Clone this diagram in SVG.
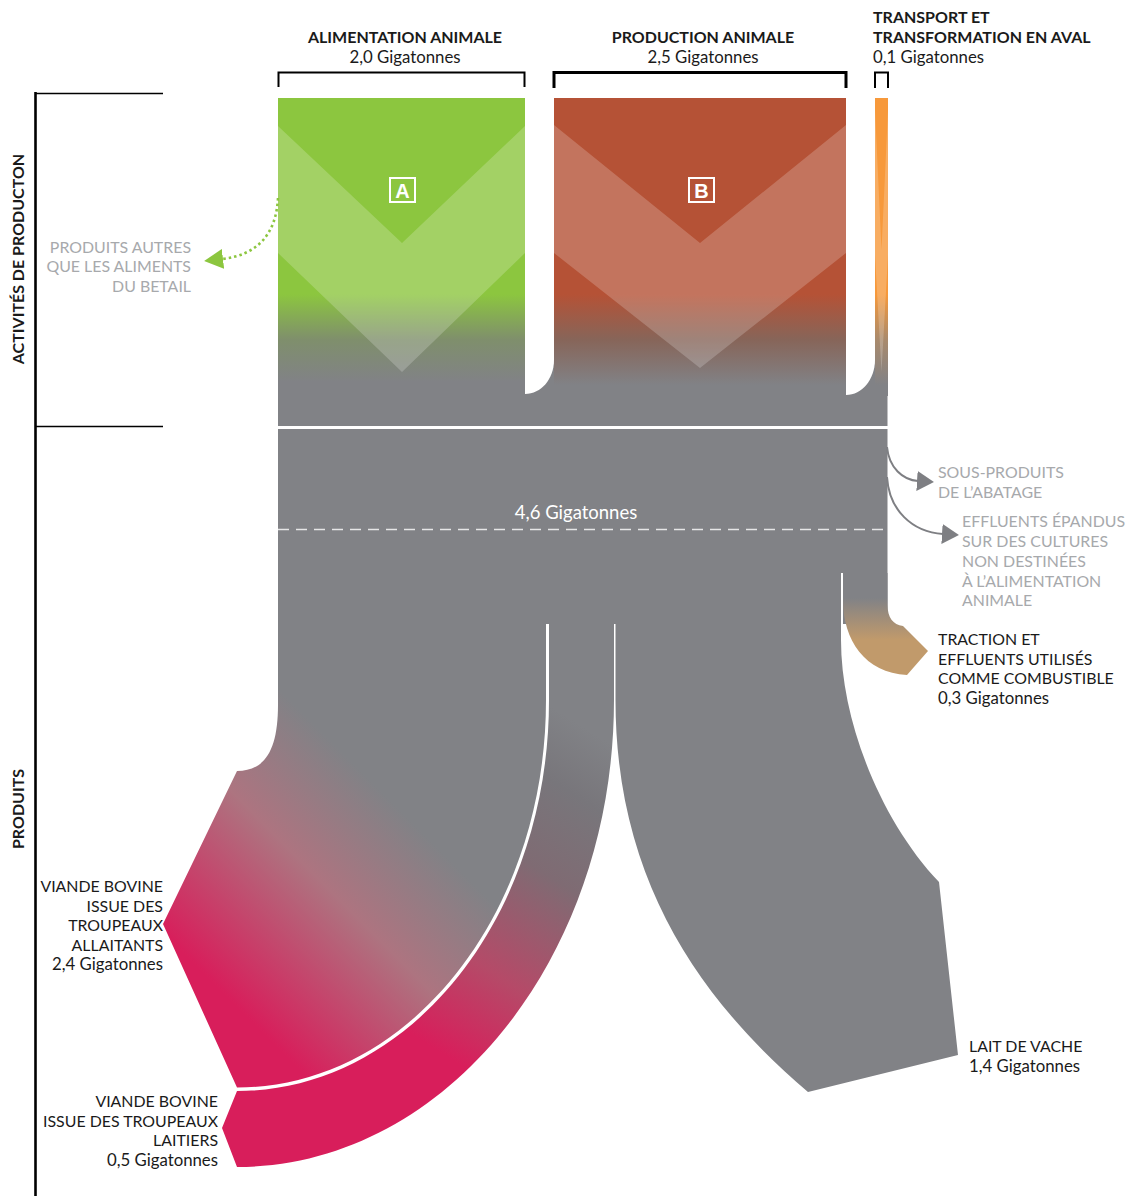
<svg xmlns="http://www.w3.org/2000/svg" width="1125" height="1196" viewBox="0 0 1125 1196">
  <style>
    text { font-family: Lato, "Open Sans", "Liberation Sans", sans-serif; font-size: 15.9px; fill: #1a1a1a; }
    .num { font-size: 16.8px; }
    .b { font-weight: 700; font-size: 16px; }
    .grey { fill: #a7a9ac; }
    .mid { text-anchor: middle; }
    .end { text-anchor: end; }
    .brk { fill: none; stroke: #000; }
    .chev { fill: #fff; fill-opacity: 0.2; }
    .tag { fill: none; stroke: #fff; stroke-width: 2; }
    .tagtxt { fill: #fff; font-family: "Liberation Sans", "Open Sans", sans-serif; font-weight: 700; font-size: 20px; text-anchor: middle; }
    .flow { fill: #818286; }
    .garrow { fill: none; stroke: #7e7f83; stroke-width: 2; marker-end: url(#headGrey); }
  </style>
  <defs>
    <linearGradient id="gA" gradientUnits="userSpaceOnUse" x1="0" y1="98" x2="0" y2="400">
      <stop offset="0.65" stop-color="#8cc63f"/>
      <stop offset="0.8" stop-color="#7f8f6c"/>
      <stop offset="0.94" stop-color="#818286"/>
    </linearGradient>
    <linearGradient id="gB" gradientUnits="userSpaceOnUse" x1="0" y1="98" x2="0" y2="400">
      <stop offset="0.65" stop-color="#b55236"/>
      <stop offset="0.8" stop-color="#876559"/>
      <stop offset="0.95" stop-color="#818286"/>
    </linearGradient>
    <linearGradient id="gC" gradientUnits="userSpaceOnUse" x1="0" y1="98" x2="0" y2="400">
      <stop offset="0.65" stop-color="#f7993b"/>
      <stop offset="0.8" stop-color="#a98a6c"/>
      <stop offset="0.95" stop-color="#818286"/>
    </linearGradient>
    <linearGradient id="gBeef" gradientUnits="userSpaceOnUse" x1="500" y1="700" x2="200" y2="1000">
      <stop offset="0.35" stop-color="#818286"/>
      <stop offset="0.6" stop-color="#ad7480"/>
      <stop offset="0.95" stop-color="#d81e5b"/>
    </linearGradient>
    <linearGradient id="gDairyBeef" gradientUnits="userSpaceOnUse" x1="620" y1="750" x2="400" y2="1100">
      <stop offset="0" stop-color="#818286"/>
      <stop offset="0.15" stop-color="#78767b"/>
      <stop offset="0.35" stop-color="#7f6b73"/>
      <stop offset="0.62" stop-color="#b54a68"/>
      <stop offset="0.85" stop-color="#d81e5b"/>
    </linearGradient>
    <linearGradient id="gTan" gradientUnits="userSpaceOnUse" x1="0" y1="598" x2="0" y2="640">
      <stop offset="0" stop-color="#818286"/>
      <stop offset="1" stop-color="#c19a6b"/>
    </linearGradient>
    <marker id="headGrey" markerUnits="userSpaceOnUse" markerWidth="18" markerHeight="20" refX="1" refY="10" orient="auto">
      <path d="M0,0 L17,10 L0,20 Z" fill="#7e7f83"/>
    </marker>
    <marker id="headGreen" markerUnits="userSpaceOnUse" markerWidth="20" markerHeight="20" refX="1" refY="10" orient="auto">
      <path d="M0,0 L19,10 L0,20 Z" fill="#8cc63f"/>
    </marker>
  </defs>

  <!-- Section bracket on the left -->
  <g id="section-brackets">
    <line x1="35.5" y1="92" x2="35.5" y2="1196" stroke="#000" stroke-width="2.6"/>
    <line x1="35" y1="93.5" x2="163" y2="93.5" stroke="#000" stroke-width="1.3"/>
    <line x1="35" y1="426.5" x2="163" y2="426.5" stroke="#000" stroke-width="1.3"/>
    <text class="b mid" transform="translate(24,259) rotate(-90)">ACTIVITÉS DE PRODUCTON</text>
    <text class="b mid" transform="translate(24,809) rotate(-90)">PRODUITS</text>
  </g>

  <!-- Column headers -->
  <g id="header-feed">
    <text class="b mid" x="405" y="43">ALIMENTATION ANIMALE</text>
    <text class="num mid" x="405" y="63">2,0 Gigatonnes</text>
    <path class="brk" stroke-width="2" d="M278.5,87 V72.5 H524.5 V87"/>
  </g>
  <g id="header-production">
    <text class="b mid" x="703" y="43">PRODUCTION ANIMALE</text>
    <text class="num mid" x="703" y="63">2,5 Gigatonnes</text>
    <path class="brk" stroke-width="3" d="M554,88 V72.5 H846 V88"/>
  </g>
  <g id="header-transport">
    <text class="b" x="873" y="23">TRANSPORT ET</text>
    <text class="b" x="873" y="43">TRANSFORMATION EN AVAL</text>
    <text class="num" x="873" y="63">0,1 Gigatonnes</text>
    <path class="brk" stroke-width="2" d="M875,88 V72.5 H888 V88"/>
  </g>

  <!-- Production activities -->
  <g id="activities">
    <rect class="flow" x="278" y="98" width="609.5" height="328"/>
    <g id="node-feed">
      <rect x="278" y="98" width="247" height="302" fill="url(#gA)"/>
      <path class="chev" d="M278,126 L402,243 L525,126 V253 L402,372 L278,253 Z"/>
      <rect class="tag" x="390" y="178" width="25" height="24"/>
      <text class="tagtxt" x="402.5" y="198">A</text>
    </g>
    <g id="node-production">
      <rect x="554" y="98" width="292" height="302" fill="url(#gB)"/>
      <path class="chev" d="M554,125 L700,243 L846,125 V253 L700,368 L554,253 Z"/>
      <rect class="tag" x="689" y="178" width="25" height="24"/>
      <text class="tagtxt" x="701.5" y="198">B</text>
    </g>
    <g id="node-transport">
      <rect x="875" y="98" width="13" height="298" fill="url(#gC)"/>
      <path class="chev" d="M875,110 L881.5,250 L888,110 V255 L881.5,372 L875,255 Z"/>
    </g>
    <!-- gaps between the columns, rounded where they meet the shared band -->
    <path fill="#fff" d="M525,98 H554 V360 C554,379 541,394 525,394 Z"/>
    <path fill="#fff" d="M846,98 H875 V360 C875,379 862,395 846,395 Z"/>
    <!-- feed diverted to other products -->
    <path d="M278,198 C276,235 257,255 222,259" fill="none" stroke="#8cc63f" stroke-width="2.6" stroke-dasharray="2.5 3" marker-end="url(#headGreen)"/>
  </g>
  <g id="label-other-products">
    <text class="grey end" x="191" y="253">PRODUITS AUTRES</text>
    <text class="grey end" x="191" y="272">QUE LES ALIMENTS</text>
    <text class="grey end" x="191" y="292">DU BETAIL</text>
  </g>

  <!-- Total emissions trunk -->
  <g id="trunk">
    <rect class="flow" x="278" y="429" width="609.5" height="195"/>
    <line x1="278" y1="427.5" x2="888" y2="427.5" stroke="#fff" stroke-width="2"/>
    <line x1="278" y1="529.5" x2="887" y2="529.5" stroke="#e6e6e7" stroke-width="1.6" stroke-dasharray="11 7"/>
    <text class="mid" x="576" y="519" style="fill:#fff;font-size:18.5px">4,6 Gigatonnes</text>
    <line x1="842" y1="573" x2="842" y2="625" stroke="#fff" stroke-width="2"/>
  </g>

  <!-- Outflows from the trunk -->
  <g id="connectors">
    <path class="garrow" d="M887,447 C889,468 903,480 918,481"/>
    <path class="garrow" d="M887,477 C889,510 912,532 943,534"/>
  </g>
  <g id="label-byproducts">
    <text class="grey" x="938" y="478">SOUS-PRODUITS</text>
    <text class="grey" x="938" y="498">DE L’ABATAGE</text>
  </g>
  <g id="label-manure">
    <text class="grey" x="962" y="527">EFFLUENTS ÉPANDUS</text>
    <text class="grey" x="962" y="547">SUR DES CULTURES</text>
    <text class="grey" x="962" y="567">NON DESTINÉES</text>
    <text class="grey" x="962" y="587">À L’ALIMENTATION</text>
    <text class="grey" x="962" y="606">ANIMALE</text>
  </g>

  <!-- Product branches -->
  <g id="node-beef-suckler">
    <path fill="url(#gBeef)" d="M278,623 H546 V700 C546,915 408,1087.5 237,1087.5 L163,924 L237,771 C265,771 278,750 278,705 Z"/>
    <text class="end" x="163" y="892">VIANDE BOVINE</text>
    <text class="end" x="163" y="912">ISSUE DES</text>
    <text class="end" x="163" y="931">TROUPEAUX</text>
    <text class="end" x="163" y="951">ALLAITANTS</text>
    <text class="num end" x="163" y="970">2,4 Gigatonnes</text>
  </g>
  <g id="node-beef-dairy">
    <path fill="url(#gDairyBeef)" d="M549,623 H614 V700 C614,958 445,1167 237,1167 L222,1128 L237,1091 C410,1091 549,917 549,700 Z"/>
    <text class="end" x="218" y="1107">VIANDE BOVINE</text>
    <text class="end" x="218" y="1127">ISSUE DES TROUPEAUX</text>
    <text class="end" x="218" y="1146">LAITIERS</text>
    <text class="num end" x="218" y="1166">0,5 Gigatonnes</text>
  </g>
  <g id="node-milk">
    <path class="flow" d="M615.5,623 H841 V640 C841,720 880,820 939,882 L958,1055 L808,1092 C700,1000 615.5,880 615.5,700 Z"/>
    <text x="969" y="1052">LAIT DE VACHE</text>
    <text class="num" x="969" y="1072">1,4 Gigatonnes</text>
  </g>
  <g id="node-traction">
    <path fill="url(#gTan)" d="M843,573 H887.5 V605 C887.5,617 893,625 903,626 L928,651 L907,675 C865,673 843,640 843,600 Z"/>
    <text x="938" y="645">TRACTION ET</text>
    <text x="938" y="665">EFFLUENTS UTILISÉS</text>
    <text x="938" y="684">COMME COMBUSTIBLE</text>
    <text class="num" x="938" y="704">0,3 Gigatonnes</text>
  </g>
</svg>
